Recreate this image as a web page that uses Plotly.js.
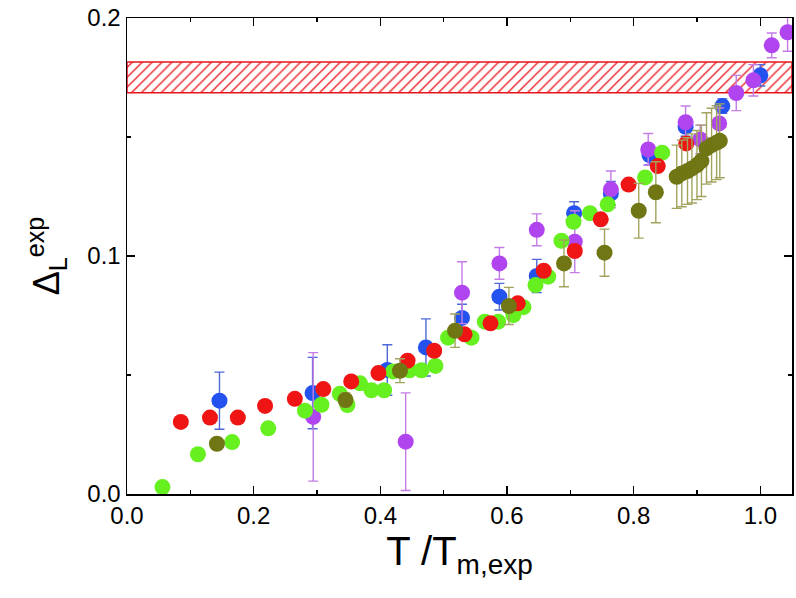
<!DOCTYPE html>
<html>
<head>
<meta charset="utf-8">
<script src="https://cdn.plot.ly/plotly-3.0.1.min.js"></script>
<style>html,body{margin:0;padding:0;background:#fff;}#chart{width:796px;height:598px;}</style>
</head>
<body>
<div id="chart"></div>
<script>
// ---- data ----
const redX = [0.085,0.131,0.175,0.218,0.265,0.310,0.354,0.397,0.443,0.485,0.533,0.574,0.617,0.658,0.707,0.748,0.792,0.838,0.883];
const redY = [0.0303,0.0321,0.0321,0.0370,0.0400,0.0441,0.0473,0.0508,0.0560,0.0602,0.0671,0.0717,0.0801,0.0938,0.1021,0.1154,0.1300,0.1378,0.1473];

const blueX = [0.146,0.293,0.411,0.472,0.529,0.588,0.647,0.706,0.764,0.825,0.882,0.940,1.000];
const blueY = [0.0392,0.0424,0.0521,0.0616,0.0740,0.0829,0.0916,0.1180,0.1263,0.1424,0.1543,0.1630,0.1759];
const blueErr = [0.012,0.015,0.0106,0.012,0.0057,0.0056,0.007,0.0048,0.005,0.004,0.004,0.003,0.0045];

const greenX = [0.056,0.112,0.166,0.223,0.281,0.307,0.336,0.348,0.368,0.386,0.406,0.420,0.446,0.465,0.487,0.507,0.544,0.565,0.586,0.610,0.626,0.645,0.665,0.686,0.705,0.731,0.759,0.818,0.845];
const greenY = [0.0029,0.0167,0.0218,0.0276,0.0350,0.0375,0.0421,0.0374,0.0465,0.0436,0.0436,0.0515,0.0520,0.0520,0.0538,0.0657,0.0657,0.0724,0.0724,0.0752,0.0785,0.0878,0.0913,0.1064,0.1144,0.1180,0.1217,0.1330,0.1434];

const oliveX = [0.142,0.345,0.431,0.518,0.603,0.690,0.754,0.808,0.835,0.868,0.876,0.885,0.892,0.900,0.907,0.915,0.923,0.931,0.936];
const oliveY = [0.0211,0.0395,0.0518,0.0686,0.0790,0.0969,0.1014,0.1190,0.1268,0.1333,0.1347,0.1357,0.1368,0.1382,0.1400,0.1452,0.1466,0.1476,0.1484];
const oliveErr = [0,0.003,0.005,0.007,0.0078,0.0098,0.0099,0.0115,0.0128,0.0133,0.014,0.014,0.0145,0.0145,0.015,0.015,0.0155,0.0155,0.0155];

const purpleX = [0.294,0.440,0.529,0.588,0.647,0.707,0.764,0.823,0.882,0.905,0.935,0.962,0.989,1.018,1.043];
const purpleY = [0.0324,0.0220,0.0846,0.0969,0.1110,0.1060,0.1280,0.1448,0.1562,0.1490,0.1557,0.1685,0.1738,0.1885,0.1940];
const purpleErr = [0.027,0.0205,0.013,0.0067,0.0067,0.013,0.0077,0.0067,0.0068,0.006,0.0065,0.0074,0.0066,0.0052,0.008];

// hatched reference band
const bandLow = 0.1686, bandHigh = 0.1815;
const xRange = [0, 1.05], yRange = [0, 0.2];

const font = 'Liberation Sans, Arial, Helvetica, sans-serif';
const msize = 16;

function pts(x, y, color, err, errColor) {
  const t = {type:'scatter', mode:'markers', x:x, y:y, cliponaxis:true,
    marker:{size:msize, color:color, line:{width:0}}, hoverinfo:'skip'};
  if (err) t.error_y = {type:'data', array:err, visible:true, color:errColor, thickness:1.4, width:5};
  return t;
}

const band = {type:'scatter', mode:'lines',
  x:[xRange[0], xRange[1], xRange[1], xRange[0], xRange[0]],
  y:[bandLow, bandLow, bandHigh, bandHigh, bandLow],
  fill:'toself', fillcolor:'rgba(255,255,255,0)',
  fillpattern:{shape:'/', fgcolor:'#e8141b', bgcolor:'#ffffff', size:7, solidity:0.18},
  line:{color:'#e8141b', width:1.5}, hoverinfo:'skip'};

const data = [
  band,
  pts(blueX, blueY, '#2352ef', blueErr, '#4f69d8'),
  pts(purpleX, purpleY, '#b045f0', purpleErr, '#c47ce6'),
  pts(greenX, greenY, '#66f01f'),
  pts(redX, redY, '#f01515'),
  pts(oliveX, oliveY, '#6f7613', oliveErr, '#a2a45e')
];

const axisCommon = {showline:true, linecolor:'#000', linewidth:1.5, mirror:'allticks',
  ticks:'inside', ticklen:8, tickwidth:1.5, tickcolor:'#000', showgrid:false, zeroline:false,
  tickfont:{family:font, size:24, color:'#000'}};

const layout = {
  width:796, height:598,
  margin:{l:127, r:4, t:18, b:104},
  paper_bgcolor:'#fff', plot_bgcolor:'#fff',
  showlegend:false,
  font:{family:font, color:'#000'},
  xaxis: Object.assign({}, axisCommon, {range:xRange, tick0:0, dtick:0.2, tickformat:'.1f',
    minor:{ticks:'inside', ticklen:4, tickwidth:1.5, dtick:0.1, tickcolor:'#000'},
    title:{text:'T /T<sub>m,exp</sub>', font:{family:font, size:40, color:'#000'}, standoff:2}}),
  yaxis: Object.assign({}, axisCommon, {range:yRange, tick0:0, dtick:0.1, tickformat:'.1f',
    minor:{ticks:'inside', ticklen:4, tickwidth:1.5, dtick:0.05, tickcolor:'#000'},
    title:{text:'Δ<sub>L</sub><sup>exp</sup>', font:{family:font, size:36, color:'#000'}, standoff:16}})
};

Plotly.newPlot('chart', data, layout, {displayModeBar:false, staticPlot:true});
</script>
</body>
</html>
